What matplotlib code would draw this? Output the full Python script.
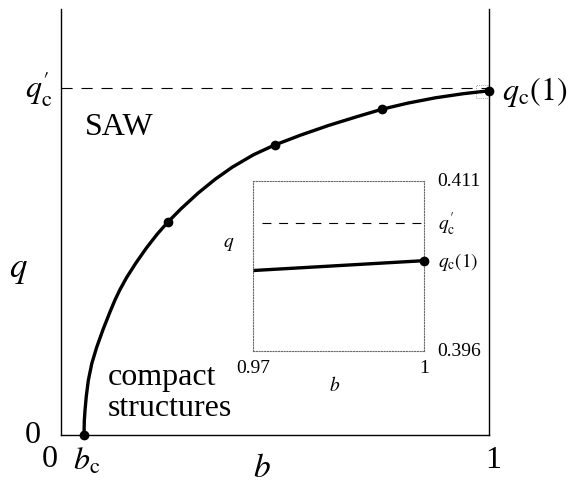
import matplotlib
matplotlib.use("Agg")
import matplotlib.pyplot as plt
from matplotlib.patches import Rectangle

plt.rcParams["font.family"] = ["Liberation Serif", "DejaVu Serif"]
plt.rcParams["mathtext.fontset"] = "stix"

# phase boundary q_c(b)
b_curve = [0.0537, 0.0545, 0.0561, 0.059, 0.0638, 0.072, 0.0834, 0.098,
           0.1145, 0.126, 0.1379, 0.1535, 0.175, 0.20, 0.225, 0.2493,
           0.28, 0.32, 0.36, 0.40, 0.45, 0.498, 0.56, 0.625, 0.69, 0.751,
           0.81, 0.875, 0.94, 1.0]
q_curve = [0.0, 0.017, 0.029, 0.045, 0.064, 0.084, 0.103, 0.1235,
           0.1445, 0.1583, 0.1708, 0.185, 0.2019, 0.2198, 0.2359, 0.2497,
           0.2653, 0.2838, 0.3001, 0.3143, 0.3290, 0.3401, 0.3520, 0.3633, 0.3734, 0.3825,
           0.3895, 0.3958, 0.4006, 0.404]
# computed points (dots)
b_pts = [0.0537, 0.25, 0.5, 0.75, 1.0]
q_pts = [0.0, 0.2502, 0.3404, 0.3824, 0.404]

qc_prime = 0.4073
bc = 0.0537

# zoomed window
b_zoom = [0.97, 1.0]
q_zoom = [0.4031, 0.40397]
zoom_xlim = (0.97, 1.0)
zoom_ylim = (0.396, 0.411)

fig = plt.figure(figsize=(5.76, 4.85), dpi=100)
ax = fig.add_axes([61/576, 49/485, 428/576, 426/485])
ax.set_xlim(0, 1)
ax.set_ylim(0, 0.5)
ax.spines["top"].set_visible(False)
for s in ["left", "bottom", "right"]:
    ax.spines[s].set_linewidth(1.0)
ax.set_xticks([])
ax.set_yticks([])

ax.plot([0, 1], [qc_prime, qc_prime], color="black", lw=0.8,
        dashes=(10, 8))
ax.plot(b_curve, q_curve, color="black", lw=2.4, solid_joinstyle="round")
ax.plot(b_pts, q_pts, "o", color="black", ms=6, clip_on=False, zorder=5)
ax.add_patch(Rectangle((zoom_xlim[0], zoom_ylim[0]),
                       zoom_xlim[1] - zoom_xlim[0], zoom_ylim[1] - zoom_ylim[0],
                       fill=False, ls=(0, (1, 1.5)), lw=0.6, ec="gray"))

fs = 23
ax.text(-0.02, qc_prime, r"$q_{\rm c}'$", ha="right", va="center", fontsize=fs)
ax.text(-0.065, 0.0, "0", ha="center", va="center", fontsize=fs)
ax.text(-0.1, 0.195, r"$q$", ha="center", va="center", fontsize=fs + 2)
ax.text(-0.026, -0.028, "0", ha="center", va="center", fontsize=fs)
ax.text(bc + 0.006, -0.030, r"$b_{\rm c}$", ha="center", va="center", fontsize=fs)
ax.text(1.01, -0.029, "1", ha="center", va="center", fontsize=fs)
ax.text(0.47, -0.038, r"$b$", ha="center", va="center", fontsize=fs + 1)
ax.text(1.03, 0.404, r"$q_{\rm c}(1)$", ha="left", va="center", fontsize=fs)
ax.text(0.055, 0.362, "SAW", ha="left", va="center", fontsize=fs)
ax.text(0.11, 0.05, "compact\nstructures", ha="left", va="center",
        fontsize=fs, linespacing=1.1)

# inset
ins = fig.add_axes([253/576, 133/485, 171/576, 170/485])
ins.set_xlim(*zoom_xlim)
ins.set_ylim(*zoom_ylim)
ins.set_xticks([])
ins.set_yticks([])
for s in ins.spines.values():
    s.set_linestyle((0, (1, 1.5)))
    s.set_linewidth(0.8)
    s.set_edgecolor("dimgray")
ins.patch.set_alpha(0)
ins.plot([0.9715, 1.0], [qc_prime, qc_prime], color="black", lw=0.8,
         dashes=(8, 7))
ins.plot(b_zoom, q_zoom, color="black", lw=2.4, solid_capstyle="butt")
ins.plot([b_zoom[-1]], [q_zoom[-1]], "o", color="black", ms=6,
         clip_on=False, zorder=5)

fs2 = 14
ins.text(1.08, 1.0, "0.411", transform=ins.transAxes, ha="left", va="center", fontsize=fs2)
ins.text(1.08, 0.0, "0.396", transform=ins.transAxes, ha="left", va="center", fontsize=fs2)
ins.text(0.0, -0.1, "0.97", transform=ins.transAxes, ha="center", va="center", fontsize=fs2)
ins.text(1.0, -0.1, "1", transform=ins.transAxes, ha="center", va="center", fontsize=fs2)
ins.text(0.48, -0.2, r"$b$", transform=ins.transAxes, ha="center", va="center", fontsize=fs2)
ins.text(-0.14, 0.63, r"$q$", transform=ins.transAxes, ha="center", va="center", fontsize=fs2)
ins.text(1.08, qc_prime, r"$q_{\rm c}'$", transform=ins.get_yaxis_transform(),
         ha="left", va="center", fontsize=fs2)
ins.text(1.08, q_zoom[-1], r"$q_{\rm c}(1)$", transform=ins.get_yaxis_transform(),
         ha="left", va="center", fontsize=fs2)

fig.savefig("out.png", dpi=100)
